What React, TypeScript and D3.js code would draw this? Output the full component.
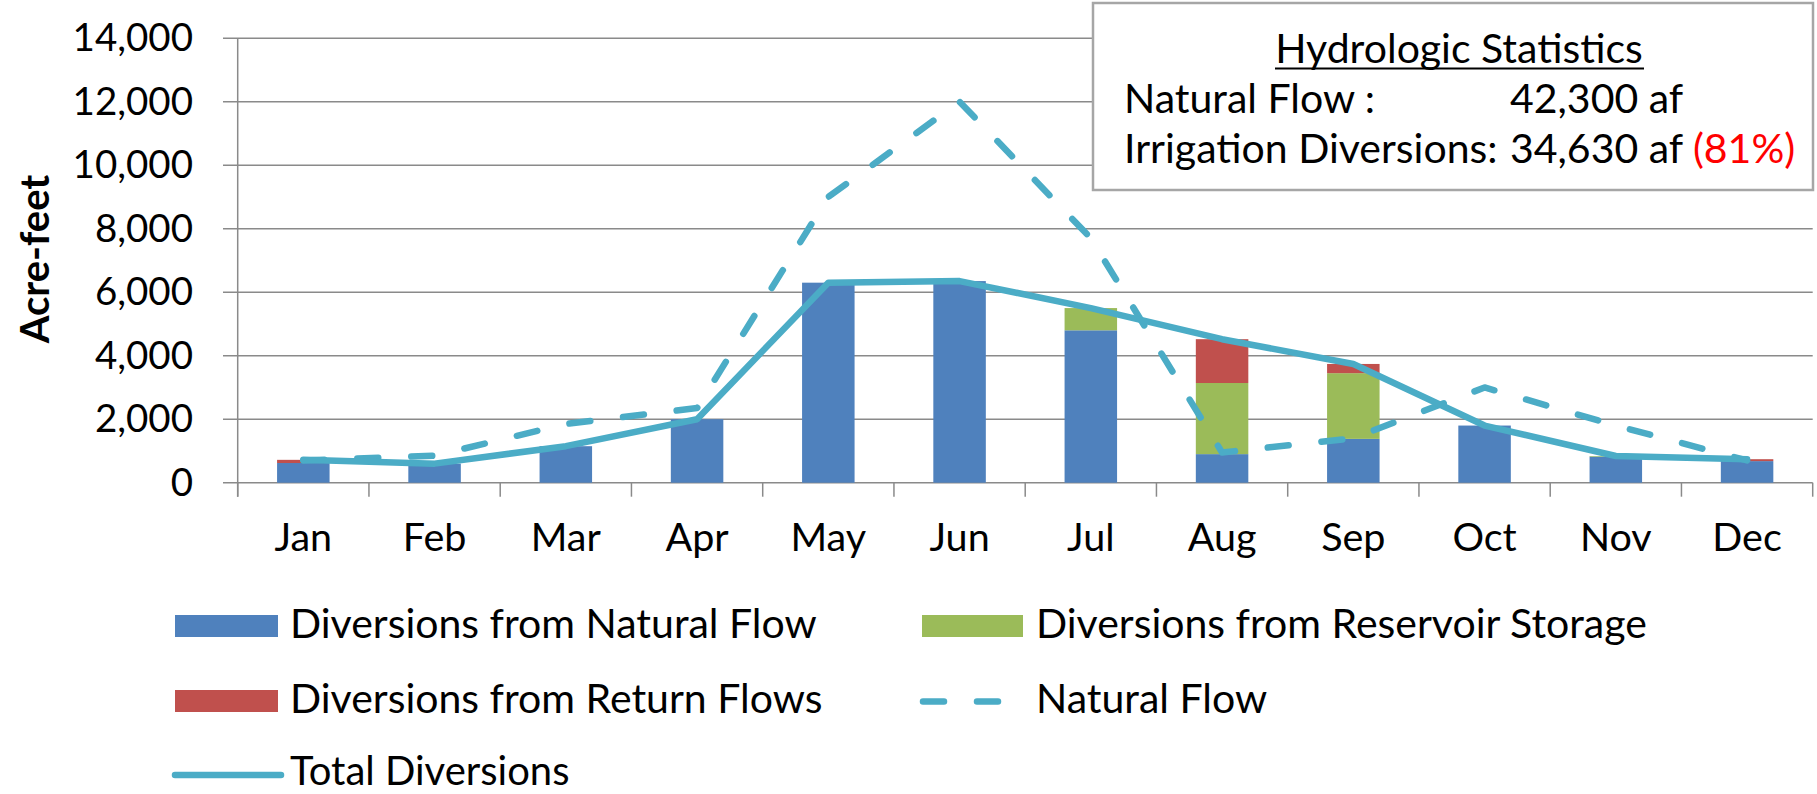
import React from "react";
import * as d3 from "d3";

const months = ["Jan", "Feb", "Mar", "Apr", "May", "Jun", "Jul", "Aug", "Sep", "Oct", "Nov", "Dec"];
const divNatural = [620, 600, 1150, 2000, 6300, 6350, 4800, 900, 1380, 1800, 820, 680];
const divReservoir = [0, 0, 0, 0, 0, 0, 700, 2240, 2070, 0, 20, 0];
const divReturn = [100, 0, 0, 0, 0, 0, 0, 1380, 290, 0, 0, 60];
const naturalFlow = [700, 850, 1850, 2350, 9000, 12000, 7700, 950, 1400, 3000, 1800, 700];
const totalDiversions = [720, 600, 1150, 2000, 6300, 6350, 5500, 4520, 3740, 1800, 840, 740];
const yTicks = [0, 2000, 4000, 6000, 8000, 10000, 12000, 14000];

const seriesKeys = ["natural", "reservoir", "returnFlow"];
const seriesColors: Record<string, string> = {
  natural: "#4F81BD",
  reservoir: "#9BBB59",
  returnFlow: "#C0504D",
};
const lineColor = "#4BACC6";
const FONT = "Lato, 'Open Sans', sans-serif";

export default function App() {
  const W = 1817;
  const H = 794;
  const x0 = 237.7;
  const x1 = 1812.7;
  const yBottom = 482.7;
  const yTop = 38.2;

  const x = d3.scaleBand<string>().domain(months).range([x0, x1]).paddingInner(0.6).paddingOuter(0.3);
  const y = d3.scaleLinear().domain([0, 14000]).range([yBottom, yTop]);
  const step = (x1 - x0) / months.length;

  const table = months.map((m, i) => ({
    month: m,
    natural: divNatural[i],
    reservoir: divReservoir[i],
    returnFlow: divReturn[i],
  }));
  const stacked = d3.stack<any>().keys(seriesKeys)(table);

  const cx = (m: string) => (x(m) as number) + x.bandwidth() / 2;
  const line = d3
    .line<number>()
    .x((_, i) => cx(months[i]))
    .y((d) => y(d));

  const fmt = d3.format(",");

  return (
    <svg
      width={W}
      height={H}
      style={{ position: "absolute", left: 0, top: 0, background: "#fff" }}
      fontFamily={FONT}
    >
      <rect x={0} y={0} width={W} height={H} fill="#fff" />
      {/* gridlines */}
      {yTicks.map((t) => (
        <line key={"g" + t} x1={223} x2={x1} y1={y(t)} y2={y(t)} stroke="#8a8a8a" strokeWidth={1.5} />
      ))}
      {/* y axis */}
      <line x1={x0} x2={x0} y1={yTop} y2={yBottom + 14} stroke="#8a8a8a" strokeWidth={1.5} />
      {/* x ticks */}
      {d3.range(months.length + 1).map((k) => (
        <line
          key={"xt" + k}
          x1={x0 + k * step}
          x2={x0 + k * step}
          y1={yBottom}
          y2={yBottom + 14}
          stroke="#8a8a8a"
          strokeWidth={1.5}
        />
      ))}
      {/* y tick labels */}
      {yTicks.map((t) => (
        <text key={"yl" + t} x={193} y={y(t) + 13} textAnchor="end" fontSize={38.5} fill="#000">
          {fmt(t)}
        </text>
      ))}
      {/* y title */}
      <text
        transform={`translate(49, 259) rotate(-90)`}
        textAnchor="middle"
        fontSize={40}
        fontWeight="bold"
        fill="#000"
      >
        Acre-feet
      </text>
      {/* month labels */}
      {months.map((m) => (
        <text key={"m" + m} x={cx(m)} y={551} textAnchor="middle" fontSize={39.5} fill="#000">
          {m}
        </text>
      ))}
      {/* bars */}
      {stacked.map((s) => (
        <g key={s.key} fill={seriesColors[s.key]}>
          {s.map((d, i) =>
            d[1] - d[0] > 0 ? (
              <rect
                key={i}
                x={x(months[i]) as number}
                width={x.bandwidth()}
                y={y(d[1])}
                height={y(d[0]) - y(d[1])}
              />
            ) : null
          )}
        </g>
      ))}
      {/* natural flow dashed */}
      <path
        d={line(naturalFlow) || ""}
        fill="none"
        stroke={lineColor}
        strokeWidth={6.5}
        strokeDasharray="21 33"
        strokeLinecap="round"
        strokeLinejoin="round"
      />
      {/* total diversions */}
      <path
        d={line(totalDiversions) || ""}
        fill="none"
        stroke={lineColor}
        strokeWidth={6.5}
        strokeLinecap="round"
        strokeLinejoin="round"
      />
      {/* stats box */}
      <rect x={1093} y={3} width={720} height={187} fill="#fff" stroke="#a6a6a6" strokeWidth={2.5} />
      <text x={1459} y={63} textAnchor="middle" fontSize={41} fill="#000">
        Hydrologic Statistics
      </text>
      <line x1={1275} x2={1644} y1={68.5} y2={68.5} stroke="#000" strokeWidth={2} />
      <text x={1124} y={113} fontSize={41} fill="#000">
        Natural Flow :
      </text>
      <text x={1510} y={113} fontSize={41} fill="#000">
        42,300 af
      </text>
      <text x={1124} y={163} fontSize={41} fill="#000">
        Irrigation Diversions:
      </text>
      <text x={1510} y={163} fontSize={41} fill="#000">
        34,630 af <tspan fill="#FF0000">(81%)</tspan>
      </text>
      {/* legend */}
      <rect x={175} y={615} width={103} height={22} fill={seriesColors.natural} />
      <text x={290} y={638} fontSize={41} fill="#000">
        Diversions from Natural Flow
      </text>
      <rect x={922} y={615} width={101} height={22} fill={seriesColors.reservoir} />
      <text x={1036} y={638} fontSize={41} fill="#000">
        Diversions from Reservoir Storage
      </text>
      <rect x={175} y={690} width={103} height={22} fill={seriesColors.returnFlow} />
      <text x={290} y={713} fontSize={41} fill="#000">
        Diversions from Return Flows
      </text>
      <line
        x1={923}
        x2={1004}
        y1={701.5}
        y2={701.5}
        stroke={lineColor}
        strokeWidth={6.5}
        strokeDasharray="21 33"
        strokeLinecap="round"
      />
      <text x={1036} y={713} fontSize={41} fill="#000">
        Natural Flow
      </text>
      <line x1={175} x2={281} y1={775} y2={775} stroke={lineColor} strokeWidth={6.5} strokeLinecap="round" />
      <text x={290} y={785} fontSize={40} fill="#000">
        Total Diversions
      </text>
    </svg>
  );
}
